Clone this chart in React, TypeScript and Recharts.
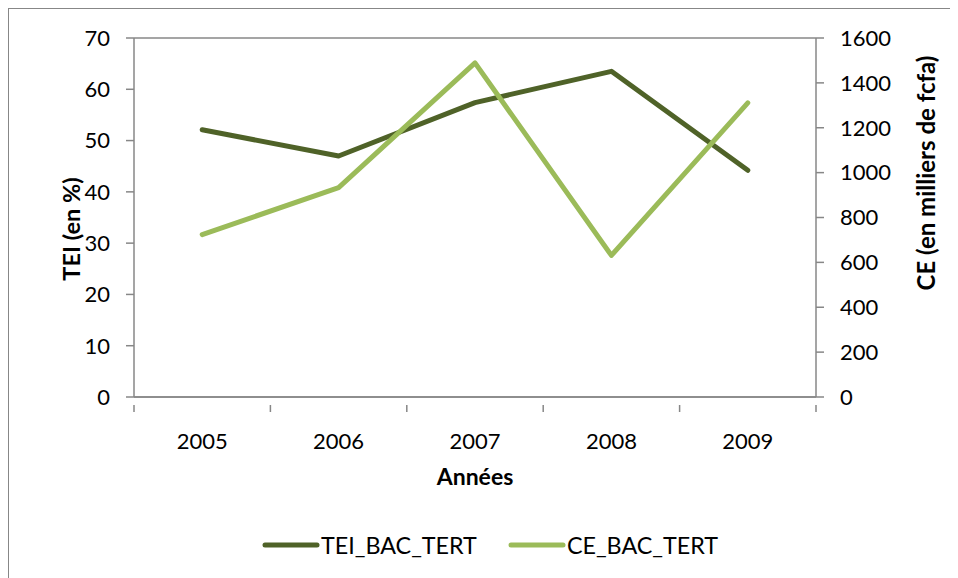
import React from 'react';
import { LineChart, Line, XAxis, YAxis, CartesianGrid, Legend } from 'recharts';

// Valeurs
const years = ['2005', '2006', '2007', '2008', '2009'];
const teiValues = [52.1, 47.0, 57.4, 63.5, 44.2];
const ceValues = [724, 933, 1489, 631, 1311];
const teiTicks = [0, 10, 20, 30, 40, 50, 60, 70];
const ceTicks = [0, 200, 400, 600, 800, 1000, 1200, 1400, 1600];

const TEI_COLOR = '#4F6228';
const CE_COLOR = '#9BBB59';
const AXIS_COLOR = '#878787';
const FONT = 'Lato, "Open Sans", sans-serif';

const data = years.map((year, i) => ({ year, tei: teiValues[i], ce: ceValues[i] }));

// category tick: label at band centre, tick marks at band edges (Excel style)
const YearTick = (props: any) => {
  const { x, y, payload, index, width, visibleTicksCount } = props;
  const band = width / (visibleTicksCount || years.length);
  const left = x - band / 2;
  return (
    <g>
      <line x1={left} x2={left} y1={y} y2={y + 7} stroke={AXIS_COLOR} strokeWidth={1.5} />
      {index === years.length - 1 && (
        <line x1={left + band} x2={left + band} y1={y} y2={y + 7} stroke={AXIS_COLOR} strokeWidth={1.5} />
      )}
      <text x={x} y={y + 44} textAnchor="middle" fontSize={22} fill="#000" fontFamily={FONT}>
        {payload.value}
      </text>
    </g>
  );
};

const renderLegend = () => {
  const items = [
    { label: 'TEI_BAC_TERT', color: TEI_COLOR },
    { label: 'CE_BAC_TERT', color: CE_COLOR },
  ];
  return (
    <div style={{ display: 'flex', justifyContent: 'flex-start', paddingLeft: 253, gap: 31 }}>
      {items.map((it) => (
        <div key={it.label} style={{ display: 'flex', alignItems: 'center' }}>
          <svg width={58} height={12}>
            <line x1={3} x2={55} y1={6} y2={6} stroke={it.color} strokeWidth={5} strokeLinecap="round" />
          </svg>
          <span style={{ fontFamily: FONT, fontSize: 23.3, color: '#000', marginLeft: 1 }}>{it.label}</span>
        </div>
      ))}
    </div>
  );
};

export default function App() {
  return (
    <div
      style={{
        width: 949,
        height: 569,
        borderLeft: `1.5px solid ${AXIS_COLOR}`,
        borderTop: `1.5px solid ${AXIS_COLOR}`,
        background: '#fff',
        overflow: 'hidden',
      }}
    >
      <LineChart width={949} height={569} data={data} margin={{ top: 29, right: 0, bottom: 0, left: 0 }}>
        <CartesianGrid vertical={false} stroke={AXIS_COLOR} strokeWidth={1.5} />
        <XAxis
          dataKey="year"
          xAxisId="x"
          scale="band"
          height={121}
          axisLine={{ stroke: AXIS_COLOR, strokeWidth: 1.5 }}
          tickLine={false}
          tick={<YearTick />}
          interval={0}
          label={(p: any) => {
            const vb = p.viewBox;
            return (
              <text
                x={vb.x + vb.width / 2}
                y={vb.y + 88}
                textAnchor="middle"
                fontSize={23}
                fontWeight="bold"
                fontFamily={FONT}
                fill="#000"
              >
                Années
              </text>
            );
          }}
        />
        <YAxis
          yAxisId="tei"
          orientation="left"
          width={125}
          domain={[0, 70]}
          ticks={teiTicks}
          interval={0}
          axisLine={{ stroke: AXIS_COLOR, strokeWidth: 1.5 }}
          tickLine={{ stroke: AXIS_COLOR, strokeWidth: 1.5 }}
          tickSize={8}
          tickMargin={16}
          tick={{ fontSize: 22, fill: '#000', fontFamily: FONT }}
          label={(p: any) => {
            const vb = p.viewBox;
            const cx = vb.x + 62;
            const cy = 220;
            return (
              <text
                x={cx}
                y={cy}
                transform={`rotate(-90, ${cx}, ${cy})`}
                textAnchor="middle"
                dominantBaseline="central"
                fontSize={23.5}
                fontWeight="bold"
                fontFamily={FONT}
                fill="#000"
              >
                TEI (en %)
              </text>
            );
          }}
        />
        <YAxis
          yAxisId="ce"
          orientation="right"
          width={142}
          domain={[0, 1600]}
          ticks={ceTicks}
          interval={0}
          axisLine={{ stroke: AXIS_COLOR, strokeWidth: 1.5 }}
          tickLine={{ stroke: AXIS_COLOR, strokeWidth: 1.5 }}
          tickSize={8}
          tickMargin={16}
          tick={{ fontSize: 22, fill: '#000', fontFamily: FONT }}
          label={(p: any) => {
            const vb = p.viewBox;
            const cx = vb.x + 109;
            const cy = 164;
            return (
              <text
                x={cx}
                y={cy}
                transform={`rotate(-90, ${cx}, ${cy})`}
                textAnchor="middle"
                dominantBaseline="central"
                fontSize={24}
                fontWeight="bold"
                fontFamily={FONT}
                fill="#000"
              >
                CE (en milliers de fcfa)
              </text>
            );
          }}
        />
        <Legend verticalAlign="bottom" height={60} content={renderLegend} wrapperStyle={{ bottom: -13 }} />
        <Line
          xAxisId="x"
          yAxisId="tei"
          type="linear"
          dataKey="tei"
          name="TEI_BAC_TERT"
          stroke={TEI_COLOR}
          strokeWidth={5}
          strokeLinecap="round"
          strokeLinejoin="round"
          dot={false}
          activeDot={false}
          isAnimationActive={false}
        />
        <Line
          xAxisId="x"
          yAxisId="ce"
          type="linear"
          dataKey="ce"
          name="CE_BAC_TERT"
          stroke={CE_COLOR}
          strokeWidth={5}
          strokeLinecap="round"
          strokeLinejoin="round"
          dot={false}
          activeDot={false}
          isAnimationActive={false}
        />
      </LineChart>
    </div>
  );
}
